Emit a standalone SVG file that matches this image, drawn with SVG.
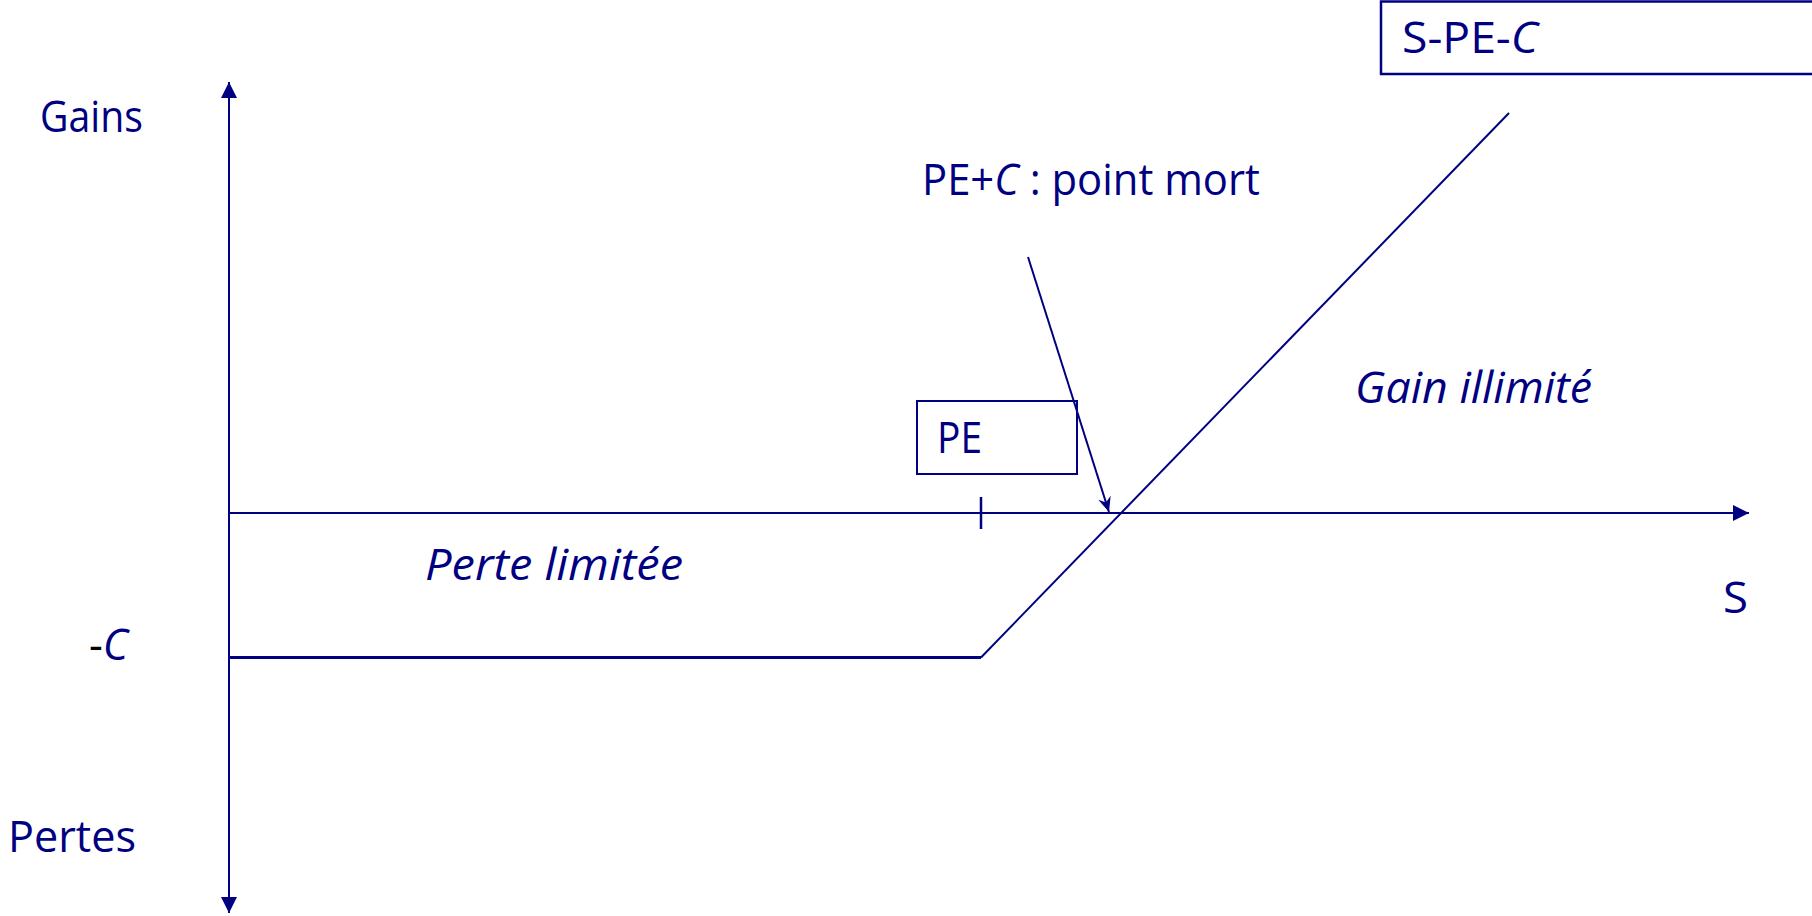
<svg xmlns="http://www.w3.org/2000/svg" width="1812" height="916" viewBox="0 0 1812 916">
<style>
.t{font-family:"Open Sans","Liberation Sans",sans-serif;font-size:43px;fill:#000080}
.i{font-style:italic}
.ln{stroke:#000080;stroke-width:2;fill:none}
.bx{stroke:#000080;stroke-width:2.5;fill:none}
</style>
<defs>
<marker id="tri" markerUnits="userSpaceOnUse" markerWidth="18" markerHeight="18" viewBox="-17 -9 18 18" refX="0" refY="0" orient="auto-start-reverse">
<path d="M0,0 L-16,-8 L-16,8 Z" fill="#000080"/>
</marker>
<marker id="stealth" markerUnits="userSpaceOnUse" markerWidth="18" markerHeight="16" viewBox="-16 -8 18 16" refX="0" refY="0" orient="auto">
<path d="M0,0 L-15,-6.5 L-10,0 L-15,6.5 Z" fill="#000080"/>
</marker>
</defs>
<rect width="1812" height="916" fill="#ffffff"/>
<g id="connectors">
<line class="ln" x1="229" y1="913" x2="229" y2="82" marker-start="url(#tri)" marker-end="url(#tri)"/>
<line class="ln" x1="229" y1="513" x2="1749" y2="513" marker-end="url(#tri)"/>
<line class="ln" x1="229" y1="657.5" x2="981" y2="657.5" style="stroke-width:3"/>
<line class="ln" x1="981" y1="657.5" x2="1509" y2="113"/>
<line class="ln" x1="981" y1="497" x2="981" y2="529" style="stroke-width:2.5"/>
<line class="ln" x1="1028" y1="257" x2="1109" y2="512" marker-end="url(#stealth)"/>
</g>
<g id="label-gains"><text class="t" x="40" y="132" textLength="103" lengthAdjust="spacingAndGlyphs">Gains</text></g>
<g id="label-pertes"><text class="t" x="8" y="852" textLength="128" lengthAdjust="spacingAndGlyphs">Pertes</text></g>
<g id="label-minus-c"><text class="t" x="89" y="660"><tspan style="fill:#000000">-</tspan><tspan class="i">C</tspan></text></g>
<g id="label-perte-limitee"><text class="t i" x="425" y="580" textLength="258" lengthAdjust="spacingAndGlyphs">Perte limitée</text></g>
<g id="label-point-mort"><text class="t" x="922" y="195" textLength="338" lengthAdjust="spacingAndGlyphs">PE+<tspan class="i">C</tspan> : point mort</text></g>
<g id="label-gain-illimite"><text class="t i" x="1355" y="403" textLength="237" lengthAdjust="spacingAndGlyphs">Gain illimité</text></g>
<g id="label-s"><text class="t" x="1723" y="613" textLength="25" lengthAdjust="spacingAndGlyphs">S</text></g>
<g id="node-pe">
<rect class="bx" x="917" y="401" width="160" height="73" style="stroke-width:2"/>
<text class="t" x="937" y="453" textLength="45" lengthAdjust="spacingAndGlyphs">PE</text>
</g>
<g id="node-spec">
<rect class="bx" x="1381" y="1.5" width="440" height="72.5"/>
<text class="t" x="1402" y="53" textLength="136" lengthAdjust="spacingAndGlyphs">S-PE-<tspan class="i">C</tspan></text>
</g>
</svg>
